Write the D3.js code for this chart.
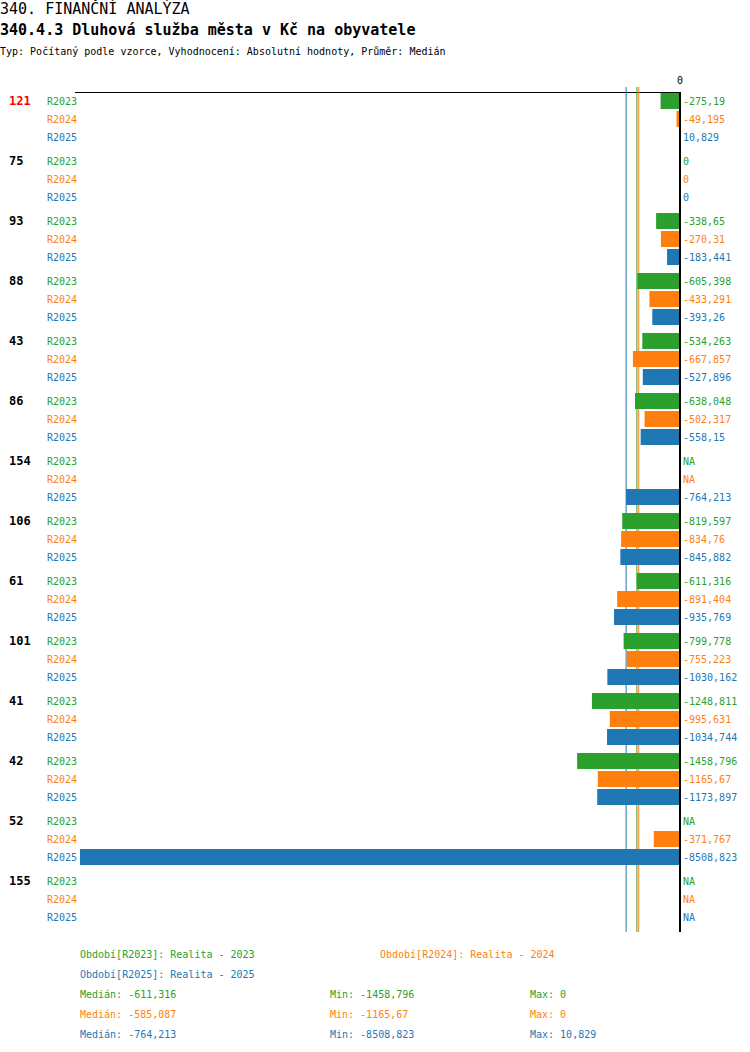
<!DOCTYPE html>
<html>
<head>
<meta charset="utf-8">
<script src="https://cdn.jsdelivr.net/npm/d3@7"></script>
<style>
  body { margin: 0; background: #fff; }
  text { font-family: "DejaVu Sans Mono", monospace; }
</style>
</head>
<body>
<script>
// data
const groups = ["121", "75", "93", "88", "43", "86", "154", "106", "61", "101", "41", "42", "52", "155"];
const series = ["R2023", "R2024", "R2025"];
const r2023 = [-275.19, 0, -338.65, -605.398, -534.263, -638.048, null, -819.597, -611.316, -799.778, -1248.811, -1458.796, null, null];
const r2024 = [-49.195, 0, -270.31, -433.291, -667.857, -502.317, null, -834.76, -891.404, -755.223, -995.631, -1165.67, -371.767, null];
const r2025 = [10.829, 0, -183.441, -393.26, -527.896, -558.15, -764.213, -845.882, -935.769, -1030.162, -1034.744, -1173.897, -8508.823, null];
const medians = [-611.316, -585.087, -764.213];
const mins = [-1458.796, -1165.67, -8508.823];
const maxs = [0, 0, 10.829];
const legendNames = ["Období[R2023]: Realita - 2023", "Období[R2024]: Realita - 2024", "Období[R2025]: Realita - 2025"];
const highlight = "121";

const colors = ["#2ca02c", "#ff7f0e", "#1f77b4"];
const values = [r2023, r2024, r2025];
const fmt = v => v === null ? "NA" : String(v).replace(".", ",");

const svg = d3.select("body").append("svg")
    .attr("width", 750)
    .attr("height", 1052);

// header
svg.append("text").attr("x", 0).attr("y", 14)
    .attr("font-size", 15).text("340. FINANČNÍ ANALÝZA");
svg.append("text").attr("x", 0).attr("y", 35)
    .attr("font-size", 15).attr("font-weight", "bold")
    .text("340.4.3 Dluhová služba města v Kč na obyvatele");
svg.append("text").attr("x", 0).attr("y", 55)
    .attr("font-size", 10)
    .text("Typ: Počítaný podle vzorce, Vyhodnocení: Absolutní hodnoty, Průměr: Medián");

const x = d3.scaleLinear()
    .domain([d3.min(mins), 0])
    .range([80, 680]);

const y = d3.scaleBand()
    .domain(groups)
    .range([92, 92 + groups.length * 60]);

const yRow = d3.scaleBand()
    .domain(series)
    .range([0, 54]);

const bottom = 92 + groups.length * 60;

// top line and zero label
svg.append("line")
    .attr("x1", 75).attr("x2", x(0))
    .attr("y1", 92.5).attr("y2", 92.5)
    .attr("stroke", "black");
svg.append("text")
    .attr("x", x(0)).attr("y", 84)
    .attr("text-anchor", "middle")
    .attr("font-size", 10)
    .text("0");

// median lines
medians.forEach((m, i) => {
    svg.append("line")
        .attr("x1", x(m)).attr("x2", x(m))
        .attr("y1", 87).attr("y2", bottom)
        .attr("stroke", colors[i]);
});

// groups
groups.forEach((g, gi) => {
    svg.append("text")
        .attr("x", 9)
        .attr("y", y(g) + 9)
        .attr("dy", "0.35em")
        .attr("font-size", 12)
        .attr("font-weight", "bold")
        .attr("fill", g === highlight ? "red" : "black")
        .text(g);

    series.forEach((s, si) => {
        const v = values[si][gi];
        const cy = y(g) + yRow(s) + yRow.bandwidth() / 2;
        svg.append("text")
            .attr("x", 47).attr("y", cy)
            .attr("dy", "0.35em")
            .attr("font-size", 10)
            .attr("fill", colors[si])
            .text(s);
        if (v !== null) {
            svg.append("rect")
                .attr("x", Math.min(x(v), x(0)))
                .attr("y", y(g) + yRow(s) + 1)
                .attr("width", Math.abs(x(v) - x(0)))
                .attr("height", yRow.bandwidth() - 2)
                .attr("fill", colors[si]);
        }
        svg.append("text")
            .attr("x", x(0) + 3).attr("y", cy)
            .attr("dy", "0.35em")
            .attr("font-size", 10)
            .attr("fill", colors[si])
            .text(fmt(v));
    });
});

// axis line
svg.append("line")
    .attr("x1", x(0)).attr("x2", x(0))
    .attr("y1", 92).attr("y2", bottom)
    .attr("stroke", "black")
    .attr("stroke-width", 2);

// legend
const legPos = [[80, 954], [380, 954], [80, 974]];
legendNames.forEach((n, i) => {
    svg.append("text")
        .attr("x", legPos[i][0]).attr("y", legPos[i][1])
        .attr("dy", "0.35em")
        .attr("font-size", 10)
        .attr("fill", colors[i])
        .text(n);
});
series.forEach((s, i) => {
    const ly = 994 + i * 20;
    [["Medián: ", medians[i], 80], ["Min: ", mins[i], 330], ["Max: ", maxs[i], 530]].forEach(d => {
        svg.append("text")
            .attr("x", d[2]).attr("y", ly)
            .attr("dy", "0.35em")
            .attr("font-size", 10)
            .attr("fill", colors[i])
            .text(d[0] + fmt(d[1]));
    });
});
</script>
</body>
</html>
